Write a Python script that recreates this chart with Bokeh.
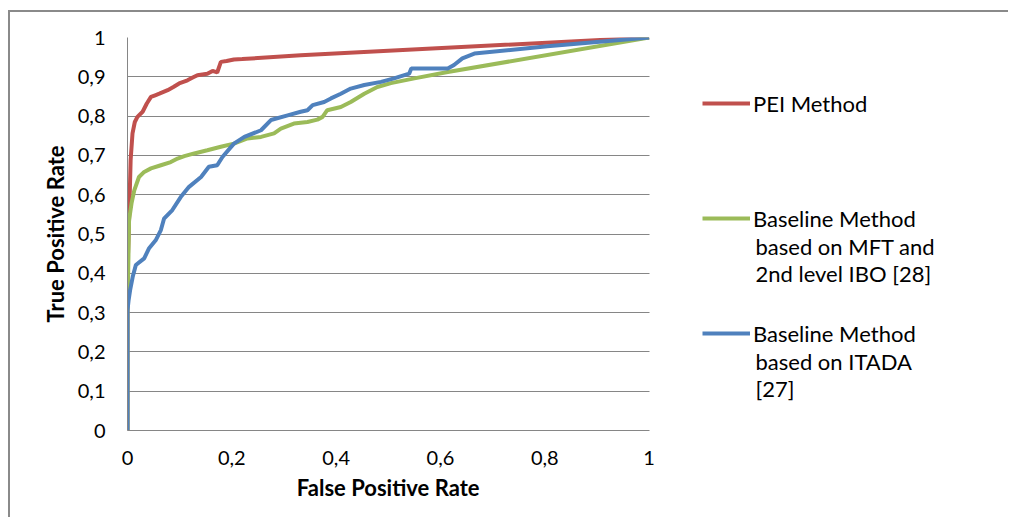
from bokeh.plotting import figure
from bokeh.models import Range1d, FixedTicker, Legend, LegendItem, Label, Grid, Title
from bokeh.embed import file_html
from bokeh.resources import INLINE

# ---- data ----
fpr_pei = [0.0, 0.0, 0.001, 0.003, 0.006, 0.0096, 0.014, 0.019, 0.029, 0.037, 0.045, 0.053, 0.061,
           0.077, 0.088, 0.099, 0.115, 0.125, 0.134, 0.153, 0.163, 0.172, 0.179, 0.19, 0.204,
           0.22, 0.332, 1.0]
tpr_pei = [0.0, 0.3, 0.45, 0.535, 0.688, 0.756, 0.785, 0.798, 0.811, 0.832, 0.849, 0.853, 0.857,
           0.866, 0.874, 0.883, 0.891, 0.898, 0.904, 0.908, 0.915, 0.911, 0.938, 0.94, 0.944,
           0.945, 0.955, 1.0]

fpr_mft = [0.0, 0.0, 0.001, 0.003, 0.008, 0.013, 0.022, 0.032, 0.045, 0.064, 0.083, 0.096, 0.109,
           0.128, 0.153, 0.179, 0.204, 0.23, 0.256, 0.281, 0.294, 0.319, 0.345, 0.364, 0.374,
           0.383, 0.409, 0.428, 0.454, 0.479, 0.505, 0.55, 0.614, 1.0]
tpr_mft = [0.0, 0.3, 0.38, 0.535, 0.58, 0.611, 0.645, 0.658, 0.667, 0.675, 0.683, 0.692, 0.698,
           0.705, 0.713, 0.722, 0.73, 0.743, 0.747, 0.756, 0.768, 0.781, 0.785, 0.791, 0.798,
           0.815, 0.823, 0.836, 0.857, 0.874, 0.884, 0.896, 0.912, 1.0]

fpr_itada = [0.0, 0.0, 0.002, 0.005, 0.01, 0.016, 0.032, 0.041, 0.054, 0.064, 0.07, 0.086, 0.102,
             0.118, 0.141, 0.156, 0.172, 0.182, 0.204, 0.224, 0.256, 0.275, 0.307, 0.332, 0.345,
             0.355, 0.377, 0.39, 0.409, 0.428, 0.454, 0.486, 0.511, 0.54, 0.544, 0.614, 0.626,
             0.642, 0.665, 0.805, 1.0]
tpr_itada = [0.0, 0.306, 0.33, 0.357, 0.391, 0.421, 0.438, 0.463, 0.484, 0.51, 0.539, 0.561, 0.594,
             0.62, 0.645, 0.671, 0.675, 0.696, 0.73, 0.747, 0.764, 0.79, 0.802, 0.811, 0.815,
             0.828, 0.836, 0.845, 0.857, 0.87, 0.879, 0.887, 0.896, 0.908, 0.921, 0.921, 0.93,
             0.947, 0.959, 0.978, 1.0]

# legend texts: first line of each entry, then the wrapped continuation lines
series_names = ["PEI Method", "Baseline Method", "Baseline Method"]
series_more = [[], ["based on MFT and", "2nd level IBO [28]"], ["based on ITADA", "[27]"]]
series_colors = ["#C0504D", "#9BBB59", "#4F81BD"]

x_ticks = [0, 0.2, 0.4, 0.6, 0.8, 1]
x_labels = ["0", "0,2", "0,4", "0,6", "0,8", "1"]
y_ticks = [0, 0.1, 0.2, 0.3, 0.4, 0.5, 0.6, 0.7, 0.8, 0.9, 1]
y_labels = ["0", "0,1", "0,2", "0,3", "0,4", "0,5", "0,6", "0,7", "0,8", "0,9", "1"]

x_title = "False Positive Rate"
y_title = "True Positive Rate"

# ---- layout / style ----
FONT = "Lato"
GRID = "#868686"
W, H = 1000, 507
BL, BT, BB = 117, 25, 89          # borders (frame: 127..., 37...430 on the page)
UNIT_PX = 521.6                   # pixels for one unit on the x axis
frame_w = W - BL
x_end = frame_w / UNIT_PX         # frame extends right so the legend lives inside it

p = figure(width=W, height=H, output_backend="svg", toolbar_location=None,
           x_range=Range1d(0, x_end), y_range=Range1d(0, 1),
           min_border_left=BL, min_border_right=0, min_border_top=BT, min_border_bottom=BB)
p.styles = {"margin-left": "8px", "margin-top": "10px",
            "border-left": "2px solid #8a8a8a", "border-top": "2px solid #8a8a8a"}
p.outline_line_color = None
p.background_fill_color = "white"
p.border_fill_color = "white"

p.xaxis.ticker = FixedTicker(ticks=x_ticks)
p.yaxis.ticker = FixedTicker(ticks=y_ticks)
p.xaxis.major_label_overrides = dict(zip(x_ticks, x_labels))
p.yaxis.major_label_overrides = dict(zip(y_ticks, y_labels))
p.xaxis.bounds = (x_ticks[0], x_ticks[-1])
for ax in (p.xaxis, p.yaxis):
    ax.axis_line_color = GRID
    ax.axis_line_width = 1
    ax.major_tick_in = 0
    ax.major_tick_out = 0
    ax.minor_tick_in = 0
    ax.minor_tick_out = 0
    ax.major_label_text_font = FONT
    ax.major_label_text_font_size = "20px"
    ax.major_label_text_color = "#000000"
    ax.axis_label_text_font = FONT
    ax.axis_label_text_font_size = "22px"
    ax.axis_label_text_font_style = "bold"
    ax.axis_label_text_color = "#000000"
p.yaxis.axis_label = y_title
p.xaxis.major_label_standoff = 20
p.yaxis.major_label_standoff = 22
p.yaxis.axis_label_standoff = 6

# x-axis title, centred under the 0..1 span of the axis
XT_W = 181                        # rendered width of the bold title
p.add_layout(Title(text=x_title, align="left", offset=(UNIT_PX / 2) - XT_W / 2 - 1,
                   text_font=FONT, text_font_size="22px", text_font_style="bold",
                   text_color="#000000", standoff=9), "below")

p.xgrid.grid_line_color = None
p.ygrid.ticker = FixedTicker(ticks=y_ticks)
p.ygrid.grid_line_color = GRID
p.ygrid.grid_line_width = 1
if "cross_bounds" in Grid.properties():
    p.ygrid.cross_bounds = (x_ticks[0], x_ticks[-1])
else:
    p.ygrid.grid_line_color = None
    p.segment(x0=[x_ticks[0]] * len(y_ticks), x1=[x_ticks[-1]] * len(y_ticks),
              y0=y_ticks, y1=y_ticks, line_color=GRID, line_width=1)

renderers = []
for fx, fy, c in ((fpr_pei, tpr_pei, series_colors[0]),
                  (fpr_mft, tpr_mft, series_colors[1]),
                  (fpr_itada, tpr_itada, series_colors[2])):
    renderers.append(p.line(fx, fy, line_color=c, line_width=4))

# legend (first lines) + wrapped continuation lines
ITEM_H = 28
PITCH = 115
LEG_X = 575                       # glyph starts 702 px on the page
LEG_TOP = 89 - 37                 # item top below frame top
frame_h = H - BT - BB
n = len(series_names)
leg_h = n * ITEM_H + (n - 1) * (PITCH - ITEM_H)
legend = Legend(items=[LegendItem(label=nm, renderers=[r]) for nm, r in zip(series_names, renderers)],
                location=(LEG_X, frame_h - LEG_TOP - leg_h), orientation="vertical",
                glyph_width=48, glyph_height=ITEM_H, label_height=ITEM_H, label_standoff=3,
                padding=0, margin=0, spacing=PITCH - ITEM_H,
                border_line_color=None, background_fill_alpha=0)
legend.label_text_font = FONT
legend.label_text_font_size = "22px"
legend.label_text_color = "#000000"
p.add_layout(legend, "center")

LINE_PITCH = 27.5
for i, more in enumerate(series_more):
    first_center = LEG_TOP + ITEM_H / 2 + i * PITCH
    for j, txt in enumerate(more):
        cy = first_center + (j + 1) * LINE_PITCH
        p.add_layout(Label(x=LEG_X + 48 + 3 + 2, y=frame_h - cy, x_units="screen", y_units="screen",
                           text=txt, text_font=FONT, text_font_size="22px", text_color="#000000",
                           text_baseline="middle", text_align="left"), "center")

open("out.html", "w").write(file_html(p, INLINE))
